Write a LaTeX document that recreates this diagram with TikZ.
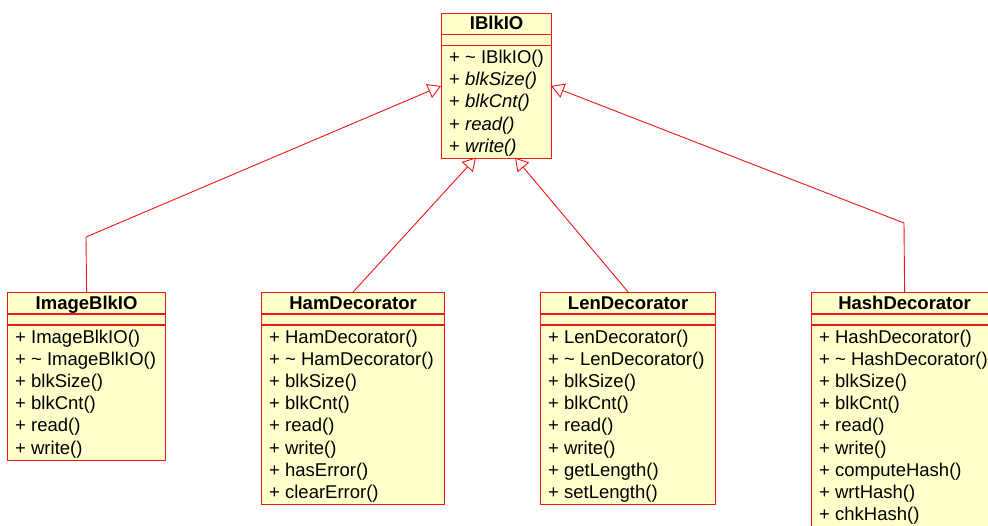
\documentclass[tikz,border=0pt]{standalone}
\usepackage{fontspec}
\setmainfont{Liberation Sans}
\usetikzlibrary{arrows.meta}
\definecolor{umlred}{RGB}{238,22,22}
\definecolor{umlfill}{RGB}{255,255,204}
\tikzset{
  classbox/.style={draw=umlred, fill=umlfill, line width=1.2pt, inner sep=0pt},
  sepline/.style={draw=umlred, line width=1.2pt},
  inh/.style={draw=umlred, line width=0.9pt, -{Triangle[open, length=13pt, width=15pt, line width=0.9pt]}},
  umltxt/.style={inner sep=0pt, font=\fontsize{18.5}{22}\selectfont},
  umltitle/.style={inner sep=0pt, font=\fontsize{18.5}{22}\selectfont\bfseries}
}
% #1 name, #2 x, #3 y top, #4 width, #5 rows, #6 title, #7 row list
\newcommand\umlbox[7]{%
  \node[classbox, minimum width=#4pt, minimum height={(33+#5*22.2+1.5)*1pt}, anchor=north west] (#1) at (#2,#3) {};
  \draw[sepline] (#1.north west) ++(0,22) -- ++(#4,0);
  \draw[sepline] (#1.north west) ++(0,33) -- ++(#4,0);
  \path (#1.north) ++(0,17) node[umltitle, anchor=base] (#1-title) {#6};
  \foreach \t [count=\i from 0] in {#7} {
    \path (#1.north west) ++(8,51+\i*22.2) node[umltxt, anchor=base west] (#1-row\i) {\t};
  }%
}
\begin{document}
\begin{tikzpicture}[x=1pt, y=-1pt]
\useasboundingbox (0,0) rectangle (988,525);
\clip (0,0) rectangle (988,525);
\fill[white] (0,0) rectangle (988,525);

\umlbox{ibk}{441}{12.5}{110}{5}{IBlkIO}{{+ \textasciitilde\ IBlkIO()},{+ \textit{blkSize()}},{+ \textit{blkCnt()}},{+ \textit{read()}},{+ \textit{write()}}}
\umlbox{img}{7}{292}{158}{6}{ImageBlkIO}{{+ ImageBlkIO()},{+ \textasciitilde\ ImageBlkIO()},{+ blkSize()},{+ blkCnt()},{+ read()},{+ write()}}
\umlbox{ham}{261}{292}{183}{8}{HamDecorator}{{+ HamDecorator()},{+ \textasciitilde\ HamDecorator()},{+ blkSize()},{+ blkCnt()},{+ read()},{+ write()},{+ hasError()},{+ clearError()}}
\umlbox{len}{540}{292}{175}{8}{LenDecorator}{{+ LenDecorator()},{+ \textasciitilde\ LenDecorator()},{+ blkSize()},{+ blkCnt()},{+ read()},{+ write()},{+ getLength()},{+ setLength()}}
\umlbox{hash}{811}{292}{186}{9}{HashDecorator}{{+ HashDecorator()},{+ \textasciitilde\ HashDecorator()},{+ blkSize()},{+ blkCnt()},{+ read()},{+ write()},{+ computeHash()},{+ wrtHash()},{+ chkHash()}}

\coordinate (iL) at (441,86);
\coordinate (iR) at (551,86);
\coordinate (iB1) at (476,157.5);
\coordinate (iB2) at (515,157.5);
\coordinate (imgBend) at (86,237);
\coordinate (hashBend) at (904,223);

\draw[inh] (img.north) -- (imgBend) -- (iL);
\draw[inh] (ham.north) -- (iB1);
\draw[inh] (len.north) -- (iB2);
\draw[inh] (hash.north) -- (hashBend) -- (iR);
\end{tikzpicture}
\end{document}
